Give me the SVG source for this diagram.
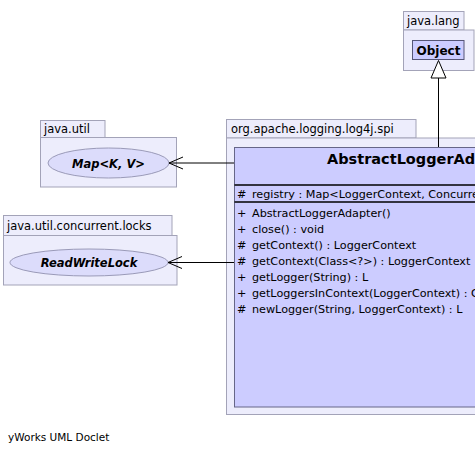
<svg xmlns="http://www.w3.org/2000/svg" width="475" height="453" viewBox="0 0 475 453">
<defs>
<style>
.pkg{fill:#ededfc;stroke:#a3a3b8;stroke-width:1}
.pl{font-family:"DejaVu Sans",sans-serif;font-size:11.5px;fill:#000}
.cls{fill:#ccccff;stroke:#666688;stroke-width:1}
.ell{fill:#dcdcfb;stroke:#9a9ab8;stroke-width:1}
.en{font-family:"DejaVu Sans",sans-serif;font-size:11.5px;font-weight:bold;font-style:italic;text-anchor:middle}
.mem{font-family:"DejaVu Sans",sans-serif;font-size:11.2px;fill:#000}
.edge{stroke:#000;stroke-width:1;fill:none}
</style>
<marker id="open" markerWidth="16" markerHeight="14" refX="15" refY="7" orient="auto" markerUnits="userSpaceOnUse">
<path d="M1,1 L15,7 L1,13" fill="none" stroke="#000" stroke-width="1"/>
</marker>
</defs>
<rect width="475" height="453" fill="#fff"/>

<g id="pkg-java-lang">
<rect class="pkg" x="403.5" y="11.5" width="60.5" height="18.5"/>
<rect class="pkg" x="403.5" y="30" width="70.5" height="40.5"/>
<text class="pl" x="407" y="25">java.lang</text>
</g>
<g id="pkg-java-util">
<rect class="pkg" x="40.5" y="120.5" width="64.5" height="17"/>
<rect class="pkg" x="40.5" y="137.5" width="136" height="49.5"/>
<text class="pl" x="44" y="133">java.util</text>
</g>
<g id="pkg-locks">
<rect class="pkg" x="3.5" y="215.5" width="168.5" height="20"/>
<rect class="pkg" x="3.5" y="235.5" width="173.5" height="49.5"/>
<text class="pl" x="7" y="230">java.util.concurrent.locks</text>
</g>
<g id="pkg-spi">
<rect class="pkg" x="226.5" y="119.5" width="189.5" height="18.5"/>
<rect class="pkg" x="226.5" y="138" width="400" height="276.5"/>
<text class="pl" x="231" y="133">org.apache.logging.log4j.spi</text>
</g>

<g id="node-object">
<rect x="412.5" y="40.5" width="51.5" height="19" fill="#ccccff" stroke="#555577"/>
<text x="438.5" y="54.5" font-family="DejaVu Sans,sans-serif" font-size="12px" font-weight="bold" text-anchor="middle">Object</text>
</g>
<g id="node-map">
<ellipse class="ell" cx="108.5" cy="163" rx="60.5" ry="15"/>
<text class="en" x="108.5" y="167.5">Map&lt;K, V&gt;</text>
</g>
<g id="node-rwlock">
<ellipse class="ell" cx="89" cy="262.5" rx="79" ry="13.5"/>
<text class="en" x="89" y="267">ReadWriteLock</text>
</g>
<g id="node-adapter">
<rect class="cls" x="234.5" y="147.5" width="400" height="259.5"/>
<text x="327" y="164" font-family="DejaVu Sans,sans-serif" font-size="14.5px" font-weight="bold">AbstractLoggerAdapter</text>
<line x1="234.5" y1="185" x2="634.5" y2="185" stroke="#000" stroke-width="1.5"/>
<line x1="234.5" y1="202" x2="634.5" y2="202" stroke="#000" stroke-width="1.5"/>
<text class="mem" x="237" y="198"><tspan>#</tspan><tspan x="252">registry : Map&lt;LoggerContext, ConcurrentMap&lt;String, L&gt;&gt;</tspan></text>
<text class="mem" x="237" y="217"><tspan>+</tspan><tspan x="252">AbstractLoggerAdapter()</tspan></text>
<text class="mem" x="237" y="233"><tspan>+</tspan><tspan x="252">close() : void</tspan></text>
<text class="mem" x="237" y="249"><tspan>#</tspan><tspan x="252">getContext() : LoggerContext</tspan></text>
<text class="mem" x="237" y="265"><tspan>#</tspan><tspan x="252">getContext(Class&lt;?&gt;) : LoggerContext</tspan></text>
<text class="mem" x="237" y="281"><tspan>+</tspan><tspan x="252">getLogger(String) : L</tspan></text>
<text class="mem" x="237" y="297"><tspan>+</tspan><tspan x="252">getLoggersInContext(LoggerContext) : ConcurrentMap&lt;String, L&gt;</tspan></text>
<text class="mem" x="237" y="313"><tspan>#</tspan><tspan x="252">newLogger(String, LoggerContext) : L</tspan></text>
</g>

<g id="connectors">
<line class="edge" x1="438.5" y1="147" x2="438.5" y2="78"/>
<polygon points="438.5,60.5 446,78 431,78" fill="#fff" stroke="#000" stroke-width="1"/>
<line class="edge" x1="234" y1="163" x2="169" y2="163" marker-end="url(#open)"/>
<line class="edge" x1="234" y1="262.5" x2="168" y2="262.5" marker-end="url(#open)"/>
</g>

<text x="8" y="441" font-family="DejaVu Sans,sans-serif" font-size="10.5px">yWorks UML Doclet</text>
</svg>
